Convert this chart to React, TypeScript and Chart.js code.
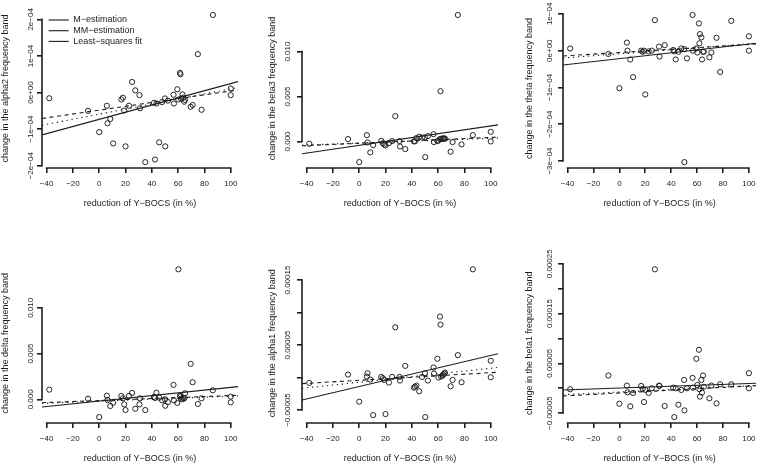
import React, { useEffect, useRef } from "react";
import { Chart, registerables } from "chart.js";

Chart.register(...registerables);

const FONT = "'Liberation Sans', Arial, Helvetica, sans-serif";
const INK = "#1c1c1c";

// ---- data -------------------------------------------------------------
const reduction = [-38, -8.5, 0, 5.8, 6.3, 8.4, 10.6, 16.8, 18, 19, 20, 22.6, 25, 27.4, 30.6, 31, 35, 41.6, 42.4, 43.5, 45.6, 47.8, 50, 50.2, 52.2, 56.5, 56.8, 59.4, 60.2, 61.4, 61.8, 62.2, 63.3, 63.8, 64.6, 65.2, 69.5, 71, 75, 77.8, 86.4, 100, 100];

const alpha2 = [-0.155e-4, -0.5e-4, -1.08e-4, -0.36e-4, -0.84e-4, -0.72e-4, -1.39e-4, -0.19e-4, -0.14e-4, -0.49e-4, -1.47e-4, -0.36e-4, 0.29e-4, 0.06e-4, -0.07e-4, -0.43e-4, -1.9e-4, -0.28e-4, -1.83e-4, -0.3e-4, -1.36e-4, -0.26e-4, -0.16e-4, -1.47e-4, -0.22e-4, -0.06e-4, -0.3e-4, 0.09e-4, -0.19e-4, 0.54e-4, 0.5e-4, -0.17e-4, -0.05e-4, -0.14e-4, -0.25e-4, -0.2e-4, -0.39e-4, -0.34e-4, 1.05e-4, -0.47e-4, 2.12e-4, 0.11e-4, -0.07e-4];
const beta3 = [-0.26e-3, 0.26e-3, -2.3e-3, 0.7e-3, -0.11e-3, -1.22e-3, -0.41e-3, 0.07e-3, -0.2e-3, -0.35e-3, -0.45e-3, -0.19e-3, 0.04e-3, 2.81e-3, 0.04e-3, -0.56e-3, -0.85e-3, 0.0, 0.02e-3, 0.37e-3, 0.52e-3, 0.44e-3, 0.44e-3, -1.74e-3, 0.59e-3, 0.81e-3, -0.07e-3, 0.04e-3, 0.1e-3, 0.25e-3, 5.59e-3, 0.3e-3, 0.33e-3, 0.3e-3, 0.35e-3, 0.3e-3, -1.15e-3, -0.07e-3, 14.07e-3, -0.33e-3, 0.7e-3, 1.07e-3, 0.0];
const theta = [0.06e-4, -0.09e-4, -1.02e-4, 0.22e-4, 0.0, -0.24e-4, -0.72e-4, 0.0, -0.03e-4, 0.0, -1.19e-4, -0.02e-4, 0.0, 0.83e-4, 0.11e-4, -0.16e-4, 0.15e-4, 0.02e-4, -0.02e-4, -0.24e-4, -0.03e-4, 0.06e-4, 0.04e-4, -3.03e-4, -0.21e-4, 0.97e-4, 0.0, 0.06e-4, -0.05e-4, 0.74e-4, 0.2e-4, 0.45e-4, 0.36e-4, -0.24e-4, -0.03e-4, -0.03e-4, -0.18e-4, -0.05e-4, 0.35e-4, -0.58e-4, 0.81e-4, 0.39e-4, 0.0];
const delta = [1.06e-3, 0.07e-3, -1.94e-3, 0.4e-3, -0.07e-3, -0.73e-3, -0.37e-3, 0.37e-3, 0.11e-3, -0.55e-3, -1.17e-3, 0.37e-3, 0.7e-3, -1.03e-3, -0.55e-3, 0.11e-3, -1.17e-3, 0.26e-3, 0.15e-3, 0.73e-3, 0.18e-3, -0.11e-3, 0.0, -0.7e-3, -0.29e-3, 1.58e-3, -0.11e-3, -0.4e-3, 14.21e-3, 0.4e-3, 0.3e-3, 0.07e-3, 0.0, 0.18e-3, 0.1e-3, 0.66e-3, 3.88e-3, 1.87e-3, -0.51e-3, 0.11e-3, 0.99e-3, 0.29e-3, -0.33e-3];
const alpha1 = [-0.82e-5, 0.46e-5, -3.71e-5, 0.15e-5, 0.67e-5, -0.31e-5, -5.77e-5, 0.1e-5, -0.1e-5, -0.36e-5, -5.62e-5, -0.77e-5, 0.1e-5, 7.73e-5, 0.1e-5, -0.46e-5, 1.8e-5, -1.55e-5, -1.4e-5, -1.24e-5, -2.11e-5, 0.1e-5, 0.67e-5, -6.08e-5, -0.46e-5, 1.55e-5, 0.62e-5, 2.89e-5, 0.0, 9.38e-5, 8.14e-5, 0.15e-5, 0.3e-5, 0.46e-5, 0.62e-5, 0.77e-5, -1.34e-5, -0.36e-5, 3.45e-5, -0.72e-5, 16.65e-5, 2.58e-5, 0.05e-5];
const beta1 = [-0.2e-5, 2.56e-5, -3.1e-5, 0.54e-5, -0.81e-5, -3.63e-5, -0.94e-5, 0.47e-5, -0.13e-5, -2.76e-5, -0.34e-5, -0.94e-5, 0.0, 23.9e-5, 0.54e-5, 0.47e-5, -3.57e-5, 0.13e-5, -5.79e-5, 0.0, -3.3e-5, -0.34e-5, 1.68e-5, -4.44e-5, 0.0, 2.09e-5, 0.13e-5, 5.92e-5, 0.67e-5, 7.74e-5, -0.2e-5, -1.68e-5, 1.68e-5, -0.87e-5, 2.56e-5, 0.3e-5, -2.02e-5, 0.54e-5, -3.03e-5, 0.81e-5, 0.81e-5, 3.03e-5, 0.0];

// fitted lines: [M-estimation, MM-estimation, least squares]
const alpha2Intercepts = [-0.59e-4, -0.48e-4, -0.73e-4];
const alpha2Slopes = [0.00691e-4, 0.00523e-4, 0.00977e-4];
const beta3Intercepts = [-0.18e-3, -0.2e-3, -0.43e-3];
const beta3Slopes = [0.00523e-3, 0.00644e-3, 0.0216e-3];
const thetaIntercepts = [-0.083e-4, -0.05e-4, -0.218e-4];
const thetaSlopes = [0.00268e-4, 0.00218e-4, 0.00396e-4];
const deltaIntercepts = [-0.2e-3, -0.13e-3, -0.19e-3];
const deltaSlopes = [0.00544e-3, 0.00544e-3, 0.015e-3];
const alpha1Intercepts = [-0.72e-5, -0.42e-5, -1.37e-5];
const alpha1Slopes = [0.0215e-5, 0.01175e-5, 0.0477e-5];
const beta1Intercepts = [-0.75e-5, -0.94e-5, 0.05e-5];
const beta1Slopes = [0.0122e-5, 0.014e-5, 0.009e-5];

// ticks
const xTicks = [-40, -20, 0, 20, 40, 60, 80, 100];
const xTickLabels = ["\u221240", "\u221220", "0", "20", "40", "60", "80", "100"];
const alpha2Ticks = [-2e-4, -1e-4, 0, 1e-4, 2e-4];
const alpha2TickLabels = ["\u22122e\u221204", "\u22121e\u221204", "0e+00", "1e\u221204", "2e\u221204"];
const beta3Ticks = [0, 0.005, 0.01];
const beta3TickLabels = ["0.000", "0.005", "0.010"];
const thetaTicks = [-3e-4, -2e-4, -1e-4, 0, 1e-4];
const thetaTickLabels = ["\u22123e\u221204", "\u22122e\u221204", "\u22121e\u221204", "0e+00", "1e\u221204"];
const deltaTicks = [0, 0.005, 0.01];
const deltaTickLabels = ["0.000", "0.005", "0.010"];
const alpha1Ticks = [-5e-5, 0, 5e-5, 1e-4, 1.5e-4];
const alpha1TickLabels = ["\u22120.00005", "", "0.00005", "", "0.00015"];
const beta1Ticks = [-5e-5, 0, 5e-5, 1e-4, 1.5e-4, 2e-4, 2.5e-4];
const beta1TickLabels = ["\u22120.00005", "", "0.00005", "", "0.00015", "", "0.00025"];

const xTitle = "reduction of Y\u2212BOCS (in %)";
const fitNames = ["M\u2212estimation", "MM\u2212estimation", "Least\u2212squares fit"];
const fitDashes = [[1.3, 3.7], [4, 3.6], []];

const panels = [
  { title: "change in the alpha2 frequency band", values: alpha2, ticks: alpha2Ticks, tickLabels: alpha2TickLabels, intercepts: alpha2Intercepts, slopes: alpha2Slopes, legend: true },
  { title: "change in the beta3 frequency band", values: beta3, ticks: beta3Ticks, tickLabels: beta3TickLabels, intercepts: beta3Intercepts, slopes: beta3Slopes, legend: false },
  { title: "change in the theta frequency band", values: theta, ticks: thetaTicks, tickLabels: thetaTickLabels, intercepts: thetaIntercepts, slopes: thetaSlopes, legend: false },
  { title: "change in the delta frequency band", values: delta, ticks: deltaTicks, tickLabels: deltaTickLabels, intercepts: deltaIntercepts, slopes: deltaSlopes, legend: false },
  { title: "change in the alpha1 frequency band", values: alpha1, ticks: alpha1Ticks, tickLabels: alpha1TickLabels, intercepts: alpha1Intercepts, slopes: alpha1Slopes, legend: false },
  { title: "change in the beta1 frequency band", values: beta1, ticks: beta1Ticks, tickLabels: beta1TickLabels, intercepts: beta1Intercepts, slopes: beta1Slopes, legend: false },
];

// ---- layout -----------------------------------------------------------
const cols = [ { left: 0, width: 254 }, { left: 254, width: 253 }, { left: 507, width: 254 } ];
const rowTops = [0, 233];
const CANVAS_H = 233;
const geo = [
  { left: 42, top: 9.1, bottom: 168, yLabelX: 31, yTitleX: 6 },
  { left: 48, top: 9.1, bottom: 168, yLabelX: 33.7, yTitleX: 18.7 },
  { left: 56, top: 9.1, bottom: 168, yLabelX: 43, yTitleX: 22.3 },
  { left: 42, top: 30.4, bottom: 190, yLabelX: 31, yTitleX: 6 },
  { left: 48, top: 30.4, bottom: 190, yLabelX: 33.7, yTitleX: 18.7 },
  { left: 56, top: 30.4, bottom: 190, yLabelX: 43, yTitleX: 22.3 },
];
const PLOT_W = 196;
const TICK_LEN = 5;
const TICK_SIZE = 8;
const TITLE_SIZE = 9;
const AXIS_W = 1.6;
const LEGEND_SHIFT = 5;

function padRange(vals: number[]) {
  const lo = Math.min(...vals);
  const hi = Math.max(...vals);
  const d = (hi - lo) * 0.04;
  return [lo - d, hi + d];
}

// R-style axis lines: from the first to the last tick only
const rAxisLines = {
  id: "rAxisLines",
  afterLayout(chart: any) {
    const l = chart.legend;
    if (l && l.options && l.options.display) l.left += LEGEND_SHIFT;
  },
  afterDraw(chart: any) {
    const ctx = chart.ctx;
    const x = chart.scales.x;
    const y = chart.scales.y;
    const xt = x.ticks;
    const yt = y.ticks;
    const ax = chart.chartArea.left;
    const ay = chart.chartArea.bottom;
    ctx.save();
    ctx.setLineDash([]);
    ctx.strokeStyle = INK;
    ctx.lineWidth = AXIS_W;
    ctx.lineCap = "square";
    ctx.beginPath();
    ctx.moveTo(x.getPixelForValue(xt[0].value), ay);
    ctx.lineTo(x.getPixelForValue(xt[xt.length - 1].value), ay);
    ctx.stroke();
    ctx.beginPath();
    ctx.moveTo(ax, y.getPixelForValue(yt[0].value));
    ctx.lineTo(ax, y.getPixelForValue(yt[yt.length - 1].value));
    ctx.stroke();
    ctx.restore();
  },
};

function Panel({ idx }: { idx: number }) {
  const ref = useRef<HTMLCanvasElement>(null);
  const p = panels[idx];
  const g = geo[idx];
  const col = cols[idx % 3];
  const top = rowTops[Math.floor(idx / 3)];

  useEffect(() => {
    const canvas = ref.current!;
    const [xMin, xMax] = padRange(reduction);
    const [yMin, yMax] = padRange(p.values);

    const mctx = document.createElement("canvas").getContext("2d")!;
    mctx.font = `${TICK_SIZE}px ${FONT}`;
    const widest = Math.max(...p.tickLabels.map((l) => mctx.measureText(l).width));
    const yTickPad = g.left - TICK_LEN - widest / 2 - g.yLabelX;

    const datasets: any[] = [
      {
        label: "data",
        data: reduction.map((x, i) => ({ x, y: p.values[i] })),
        pointStyle: "circle",
        pointRadius: 2.6,
        pointBorderWidth: 0.95,
        pointBorderColor: INK,
        pointBackgroundColor: "rgba(0,0,0,0)",
        borderColor: INK,
        backgroundColor: "rgba(0,0,0,0)",
        showLine: false,
      },
    ];
    fitNames.forEach((name, k) => {
      datasets.push({
        label: name,
        data: [
          { x: xMin, y: p.intercepts[k] + p.slopes[k] * xMin },
          { x: xMax, y: p.intercepts[k] + p.slopes[k] * xMax },
        ],
        showLine: true,
        pointRadius: 0,
        borderColor: INK,
        backgroundColor: "rgba(0,0,0,0)",
        borderWidth: 1.1,
        borderDash: fitDashes[k],
        fill: false,
      });
    });

    const lh = 1.2;
    const mkGrid = () => ({
      display: true,
      drawOnChartArea: false,
      drawTicks: true,
      tickLength: TICK_LEN,
      color: INK,
      lineWidth: AXIS_W,
      tickColor: INK,
      tickWidth: AXIS_W,
    });
    const chart = new Chart(canvas, {
      type: "scatter",
      data: { datasets },
      plugins: [rAxisLines],
      options: {
        animation: false,
        responsive: false,
        devicePixelRatio: 1,
        events: [],
        layout: { padding: { left: 0, top: g.top, right: col.width - g.left - PLOT_W, bottom: 0 } },
        plugins: {
          tooltip: { enabled: false },
          legend: p.legend
            ? {
                display: true,
                position: "chartArea",
                align: "start",
                title: { display: true, text: "", font: { size: 1, lineHeight: 1 }, padding: { top: 12.8, bottom: 0 } },
                labels: {
                  usePointStyle: true,
                  pointStyle: "line",
                  pointStyleWidth: 20,
                  font: { size: TITLE_SIZE, family: FONT },
                  color: INK,
                  padding: 1.7,
                  filter: (item: any) => item.datasetIndex > 0,
                },
              }
            : { display: false },
        },
        scales: {
          x: {
            type: "linear",
            position: "bottom",
            min: xMin,
            max: xMax,
            bounds: "data",
            border: { display: false },
            grid: mkGrid(),
            ticks: {
              autoSkip: false,
              maxRotation: 0,
              minRotation: 0,
              padding: 6.2,
              color: INK,
              font: { size: TICK_SIZE, family: FONT },
              callback: (_v: any, i: number) => xTickLabels[i],
            },
            title: {
              display: true,
              text: xTitle,
              color: INK,
              font: { size: TITLE_SIZE, family: FONT },
              padding: { top: 0, bottom: CANVAS_H - (TITLE_SIZE * lh) / 2 - (g.bottom + 36) },
            },
            afterBuildTicks: (s: any) => {
              s.ticks = xTicks.map((v) => ({ value: v }));
            },
            afterFit: (s: any) => {
              s.height = CANVAS_H - g.bottom;
              s.paddingLeft = 0;
              s.paddingRight = 0;
            },
          },
          y: {
            type: "linear",
            position: "left",
            min: yMin,
            max: yMax,
            bounds: "data",
            border: { display: false },
            grid: mkGrid(),
            ticks: {
              autoSkip: false,
              minRotation: 90,
              maxRotation: 90,
              crossAlign: "center",
              padding: yTickPad,
              color: INK,
              font: { size: TICK_SIZE, family: FONT },
              callback: (_v: any, i: number) => p.tickLabels[i],
            },
            title: {
              display: true,
              text: p.title,
              color: INK,
              font: { size: TITLE_SIZE, family: FONT },
              padding: { top: g.yTitleX - (TITLE_SIZE * lh) / 2, bottom: 0 },
            },
            afterBuildTicks: (s: any) => {
              s.ticks = p.ticks.map((v) => ({ value: v }));
            },
            afterFit: (s: any) => {
              s.width = g.left;
              s.paddingTop = 0;
              s.paddingBottom = 0;
            },
          },
        },
      } as any,
    });
    return () => chart.destroy();
  }, []);

  return (
    <canvas
      ref={ref}
      width={col.width}
      height={CANVAS_H}
      style={{ position: "absolute", left: col.left, top, width: col.width, height: CANVAS_H }}
    />
  );
}

export default function App() {
  return (
    <div style={{ position: "absolute", left: 0, top: 0, width: 761, height: 466, background: "#ffffff", overflow: "hidden" }}>
      {panels.map((_, i) => (
        <Panel key={i} idx={i} />
      ))}
    </div>
  );
}
